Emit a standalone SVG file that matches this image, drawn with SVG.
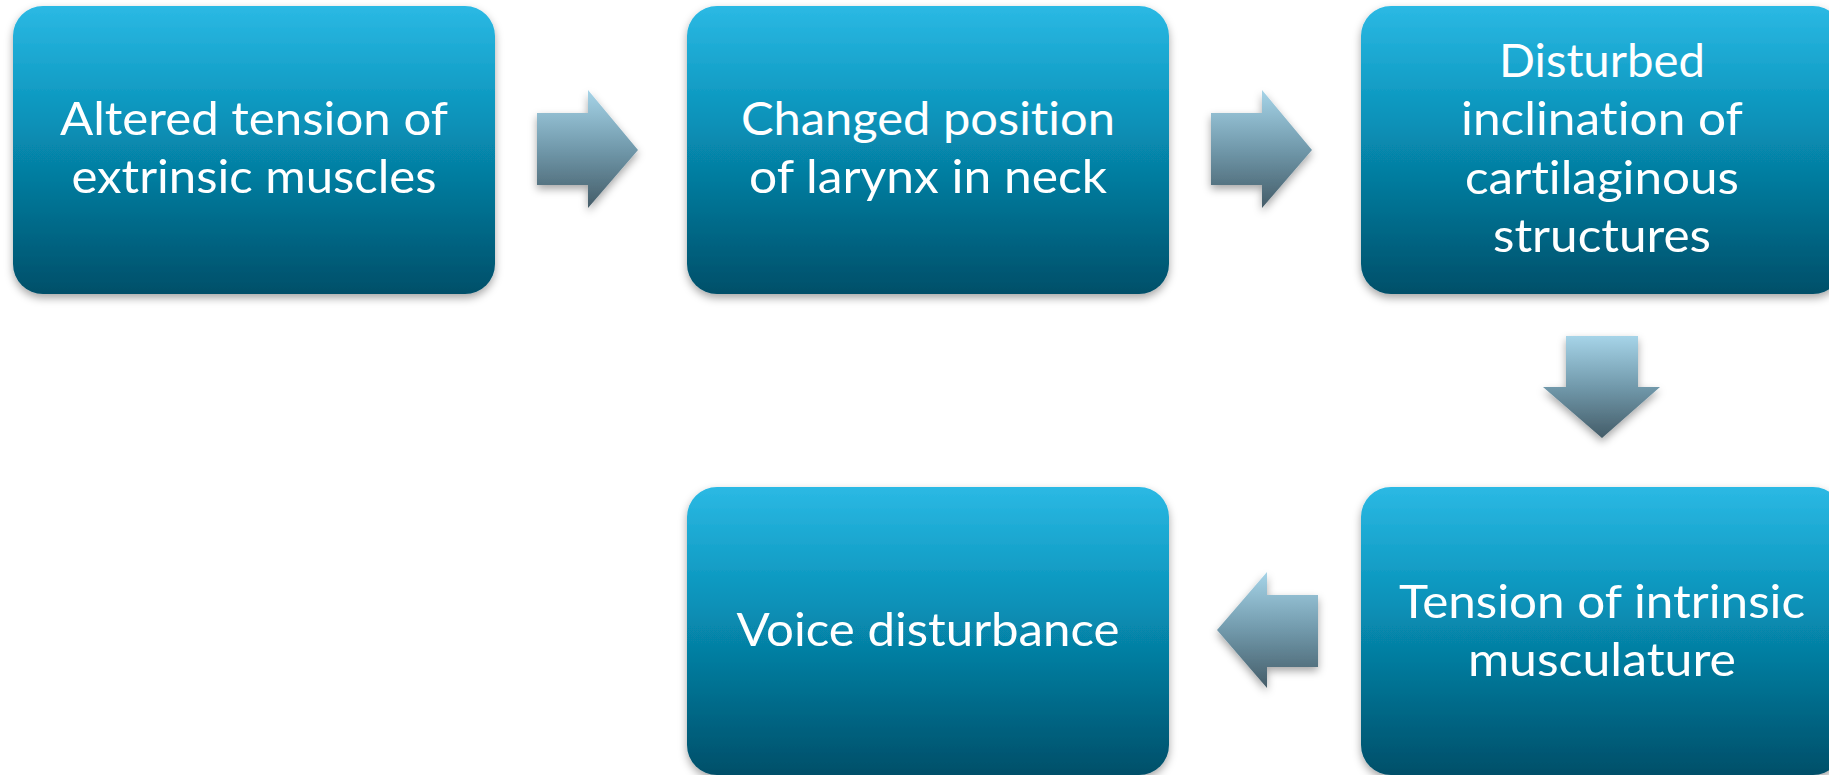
<svg xmlns="http://www.w3.org/2000/svg" width="1829" height="775" viewBox="0 0 1829 775">
<defs>
<linearGradient id="boxGrad" x1="0" y1="0" x2="0" y2="1">
<stop offset="0" stop-color="#2bb9e4"/>
<stop offset="0.4" stop-color="#0892b9"/>
<stop offset="1" stop-color="#004f69"/>
</linearGradient>
<linearGradient id="arrGrad" x1="0" y1="0" x2="0" y2="1">
<stop offset="0" stop-color="#a6d4e8"/>
<stop offset="0.5" stop-color="#7199ab"/>
<stop offset="1" stop-color="#445c68"/>
</linearGradient>
<filter id="shadow" x="-10%" y="-10%" width="120%" height="125%">
<feDropShadow dx="0" dy="4" stdDeviation="4" flood-color="#000" flood-opacity="0.35"/>
</filter>
</defs>
<style>
.box{fill:url(#boxGrad);filter:url(#shadow);}
.arrow{fill:url(#arrGrad);filter:url(#shadow);}
.label{font-family:Lato,"Open Sans","Liberation Sans",sans-serif;font-size:47px;fill:#ffffff;text-anchor:middle;font-variant-ligatures:none;font-feature-settings:"liga" 0,"clig" 0;}
</style>
<rect width="1829" height="775" fill="#ffffff"/>
<g id="connectors">
<polygon class="arrow" points="537,113 588,113 588,90 638,150 588,208 588,185 537,185"/>
<polygon class="arrow" points="1211,113 1262,113 1262,90 1312,150 1262,208 1262,185 1211,185"/>
<polygon class="arrow" points="1566,336 1638,336 1638,387 1660,387 1602,438 1543,387 1566,387"/>
<polygon class="arrow" points="1318,595 1267,595 1267,572 1217,630 1267,688 1267,667 1318,667"/>
</g>
<g id="node1">
<rect class="box" x="13" y="6" width="482" height="288" rx="30" ry="30"/>
<text class="label" x="254" y="135" textLength="388" lengthAdjust="spacingAndGlyphs">Altered tension of</text>
<text class="label" x="254" y="193" textLength="365" lengthAdjust="spacingAndGlyphs">extrinsic muscles</text>
</g>
<g id="node2">
<rect class="box" x="687" y="6" width="482" height="288" rx="30" ry="30"/>
<text class="label" x="928" y="135" textLength="374" lengthAdjust="spacingAndGlyphs">Changed position</text>
<text class="label" x="928" y="193" textLength="358" lengthAdjust="spacingAndGlyphs">of larynx in neck</text>
</g>
<g id="node3">
<rect class="box" x="1361" y="6" width="482" height="288" rx="30" ry="30"/>
<text class="label" x="1602" y="77" textLength="206" lengthAdjust="spacingAndGlyphs">Disturbed</text>
<text class="label" x="1602" y="135" textLength="282" lengthAdjust="spacingAndGlyphs">inclination of</text>
<text class="label" x="1602" y="194" textLength="274" lengthAdjust="spacingAndGlyphs">cartilaginous</text>
<text class="label" x="1602" y="252" textLength="218" lengthAdjust="spacingAndGlyphs">structures</text>
</g>
<g id="node4">
<rect class="box" x="687" y="487" width="482" height="288" rx="30" ry="30"/>
<text class="label" x="928" y="646" textLength="383" lengthAdjust="spacingAndGlyphs">Voice disturbance</text>
</g>
<g id="node5">
<rect class="box" x="1361" y="487" width="482" height="288" rx="30" ry="30"/>
<text class="label" x="1602" y="618" textLength="406" lengthAdjust="spacingAndGlyphs">Tension of intrinsic</text>
<text class="label" x="1602" y="676" textLength="268" lengthAdjust="spacingAndGlyphs">musculature</text>
</g>
</svg>
